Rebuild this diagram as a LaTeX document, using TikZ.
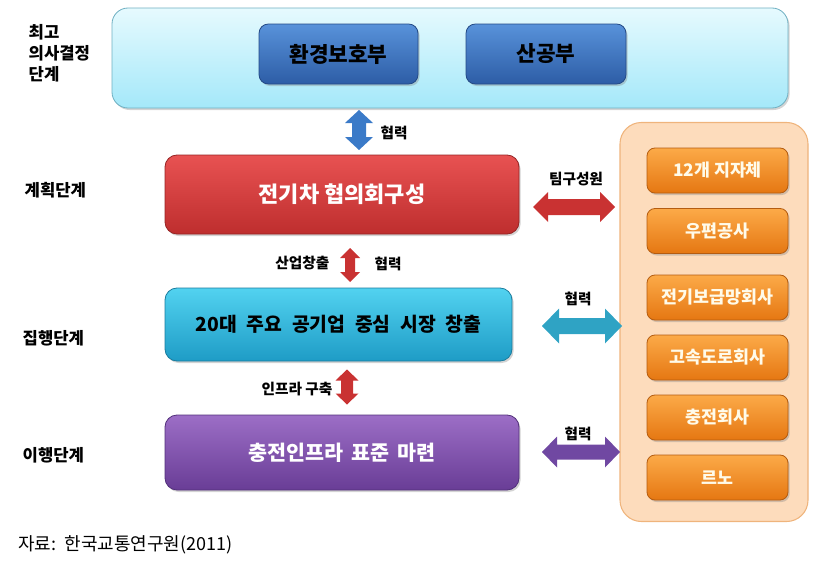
\documentclass[tikz,border=0pt]{standalone}
\usepackage{fontspec}
\setmainfont{Noto Sans CJK KR}
\usetikzlibrary{shadows}
\definecolor{topA}{HTML}{E6FAFE}
\definecolor{topB}{HTML}{A4E8F9}
\definecolor{topD}{HTML}{6FB0C2}
\definecolor{bluA}{HTML}{5892DA}
\definecolor{bluB}{HTML}{2D5DA6}
\definecolor{bluD}{HTML}{244A86}
\definecolor{redA}{HTML}{E85252}
\definecolor{redB}{HTML}{BE2E2E}
\definecolor{redD}{HTML}{962424}
\definecolor{cyaA}{HTML}{52D2F0}
\definecolor{cyaB}{HTML}{1E9CC6}
\definecolor{cyaD}{HTML}{1A7C9E}
\definecolor{purA}{HTML}{9C6EC6}
\definecolor{purB}{HTML}{693D96}
\definecolor{purD}{HTML}{52307A}
\definecolor{orgA}{HTML}{FCAA48}
\definecolor{orgB}{HTML}{E57712}
\definecolor{orgD}{HTML}{B45C10}
\definecolor{conF}{HTML}{FDDCBC}
\definecolor{conD}{HTML}{EFB47C}
\definecolor{arBlu}{HTML}{3A7AC8}
\definecolor{arRed}{HTML}{C93232}
\definecolor{arCya}{HTML}{2FA3C4}
\definecolor{arPur}{HTML}{7048A2}
\definecolor{txtW}{HTML}{FFFBEA}
% double arrow: #1 centre coordinate, #2 half length, #3 half shaft, #4 half head, #5 head length, #6 options
\newcommand\mydblarrow[6]{%
  \fill[#6, shift={(#1)}] (-#2,0) -- ({-#2+#5},{-#4}) -- ({-#2+#5},{-#3}) -- ({#2-#5},{-#3})
    -- ({#2-#5},{-#4}) -- (#2,0) -- ({#2-#5},#4) -- ({#2-#5},#3) -- ({-#2+#5},#3)
    -- ({-#2+#5},#4) -- cycle;}
\begin{document}
\begin{tikzpicture}[x=0.75pt,y=-0.75pt,
  box/.style={rounded corners=7pt, draw, line width=0.6pt, inner sep=0pt, align=center,
    drop shadow={opacity=0.35, shadow xshift=1.2pt, shadow yshift=-1.5pt}},
  topbox/.style={box, rounded corners=12pt, top color=topA, bottom color=topB, draw=topD},
  blubtn/.style={box, top color=bluA, bottom color=bluB, draw=bluD, text=black,
    font=\fontsize{16}{19}\selectfont\bfseries},
  redbox/.style={box, rounded corners=9pt, top color=redA, bottom color=redB, draw=redD, text=white,
    font=\fontsize{16.5}{19}\selectfont\bfseries},
  cyabox/.style={box, rounded corners=9pt, top color=cyaA, bottom color=cyaB, draw=cyaD, text=black,
    font=\fontsize{14.5}{17}\selectfont\bfseries},
  purbox/.style={box, rounded corners=9pt, top color=purA, bottom color=purB, draw=purD, text=white,
    font=\fontsize{15.5}{18}\selectfont\bfseries},
  conbox/.style={rounded corners=16pt, draw=conD, fill=conF, line width=0.8pt},
  orgbox/.style={box, rounded corners=6pt, top color=orgA, bottom color=orgB, draw=orgD, text=txtW,
    minimum width=105.75pt, minimum height=33.75pt, font=\fontsize{13}{15}\selectfont\bfseries},
  stage/.style={anchor=west, align=left, font=\fontsize{12.5}{15.75}\selectfont\bfseries},
  small/.style={font=\fontsize{11}{13}\selectfont\bfseries, inner sep=1pt}
]
\useasboundingbox (0,0) rectangle (819,564);

% top decision box
\node[topbox, minimum width=507pt, minimum height=75pt] (top) at (450,58) {};
\node[blubtn, minimum width=119.25pt, minimum height=45pt] (env) at (338.5,54) {환경보호부};
\node[blubtn, minimum width=120pt, minimum height=45pt] (ind) at (546,54) {산공부};

% stage labels
\node[stage] (s1) at (24,53) {최고\\의사결정\\단계};
\node[stage] (s2) at (20,190) {계획단계};
\node[stage] (s3) at (18,338) {집행단계};
\node[stage] (s4) at (18,455) {이행단계};

% main boxes
\node[redbox, minimum width=265.5pt, minimum height=59.25pt] (council) at (342,194.5) {전기차 협의회구성};
\node[cyabox, minimum width=260.25pt, minimum height=54.75pt] (market) at (338.5,324.5) {20대\hspace{0.5em}주요\hspace{0.5em}공기업\hspace{0.5em}중심\hspace{0.5em}시장\hspace{0.5em}창출};
\node[purbox, minimum width=265.5pt, minimum height=56.25pt] (infra) at (342,452.5) {충전인프라\hspace{0.4em}표준\hspace{0.4em}마련};

% right container
\node[conbox, minimum width=141pt, minimum height=299.25pt] (con) at (714,322) {};
\node[orgbox] (o1) at (717.5,170.5) {12개 지자체};
\node[orgbox] (o2) at (717.5,231) {우편공사};
\node[orgbox] (o3) at (717.5,297.5) {전기보급망회사};
\node[orgbox] (o4) at (717.5,357.5) {고속도로회사};
\node[orgbox] (o5) at (717.5,417.5) {충전회사};
\node[orgbox] (o6) at (717.5,477.5) {르노};

% arrow centres
\coordinate (a1) at (359,130);
\coordinate (a2) at (350,265);
\coordinate (a3) at (347,387);
\coordinate (h1) at (574,207);
\coordinate (h2) at (582,326);
\coordinate (h3) at (581,452);

% vertical arrows
\mydblarrow{a1}{20}{7}{14}{13}{arBlu, rotate=90}
\node[small, anchor=west] (t1) at (379,133) {협력};
\mydblarrow{a2}{17}{5}{10}{10}{arRed, rotate=90}
\node[small, anchor=east] (t2) at (331,263) {산업창출};
\node[small, anchor=west] (t3) at (373,264) {협력};
\mydblarrow{a3}{17.5}{6}{11.5}{11}{arRed, rotate=90}
\node[small, anchor=east] (t4) at (334,389) {인프라 구축};

% horizontal arrows
\mydblarrow{h1}{41}{8}{15}{15}{arRed}
\node[small] (u1) at (576,179) {팀구성원};
\mydblarrow{h2}{40}{8}{17.5}{17}{arCya}
\node[small] (u2) at (578,299) {협력};
\mydblarrow{h3}{39}{7.5}{15.5}{15}{arPur}
\node[small] (u3) at (578,434) {협력};

% caption
\node[anchor=west, inner sep=0pt, font=\fontsize{13.5}{15}\selectfont] (cap) at (18,545) {자료:\ \ 한국교통연구원(2011)};
\end{tikzpicture}
\end{document}
